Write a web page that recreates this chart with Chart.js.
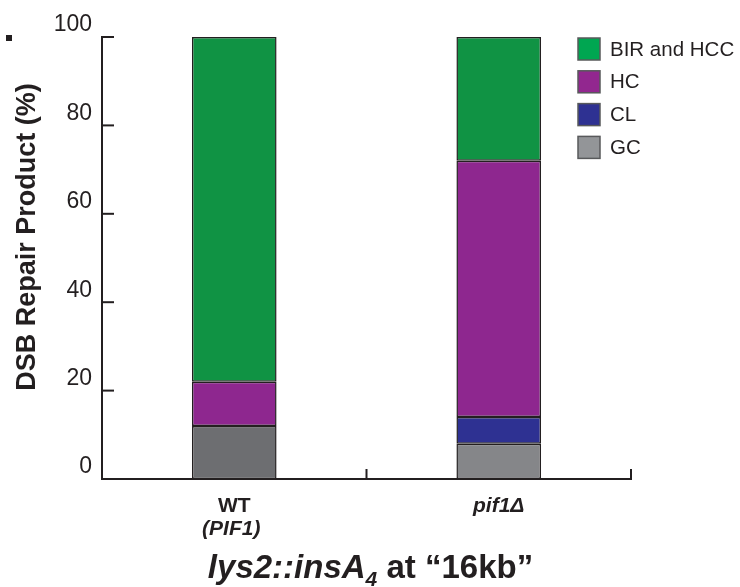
<!DOCTYPE html>
<html>
<head>
<meta charset="utf-8">
<script src="https://cdn.jsdelivr.net/npm/chart.js@4.4.1/dist/chart.umd.min.js"></script>
<style>
  html, body { margin: 0; padding: 0; background: #fff; }
  #wrap { width: 740px; height: 587px; }
</style>
</head>
<body>
<div id="wrap"><canvas id="repairChart" width="740" height="587"></canvas></div>
<script>
// data
const strains = ['WT', 'pif1Δ'];
const strainNotes = ['(PIF1)', ''];
const gcValues = [12, 8];
const clValues = [0, 6];
const hcValues = [10, 58];
const birValues = [78, 28];
const yTicks = [0, 20, 40, 60, 80, 100];
const yTitle = 'DSB Repair Product (%)';
const legendLabels = ['BIR and HCC', 'HC', 'CL', 'GC'];

const FONT = "'Liberation Sans', Arial, Helvetica, sans-serif";
const INK = '#231f20';

const legendColors = ['#00a651', '#92278f', '#2e3192', '#939598'];
const italicStrain = [false, true];

// ticks pointing into the plot, titles, strain labels and legend
const decorations = {
  id: 'decorations',
  afterDraw(chart) {
    const ctx = chart.ctx;
    const area = chart.chartArea;
    const xs = chart.scales.x;
    const ys = chart.scales.y;
    ctx.save();
    ctx.strokeStyle = INK;
    ctx.lineWidth = 2;

    ys.ticks.forEach(t => {
      const py = ys.getPixelForValue(t.value);
      ctx.beginPath();
      ctx.moveTo(area.left, py);
      ctx.lineTo(area.left + 12, py);
      ctx.stroke();
    });
    const half = (xs.getPixelForValue(1) - xs.getPixelForValue(0)) / 2;
    strains.forEach((s, i) => {
      const px = xs.getPixelForValue(i) + half;
      ctx.beginPath();
      ctx.moveTo(px, area.bottom);
      ctx.lineTo(px, area.bottom - 10);
      ctx.stroke();
    });

    // stray mark in the original figure
    ctx.fillStyle = INK;
    ctx.fillRect(6, 35, 6, 6);

    // strain labels
    ctx.textAlign = 'center';
    ctx.textBaseline = 'middle';
    strains.forEach((s, i) => {
      const px = xs.getPixelForValue(i);
      ctx.font = (italicStrain[i] ? 'italic ' : '') + 'bold 21px ' + FONT;
      ctx.fillText(s, px, area.bottom + 27);
      if (strainNotes[i]) {
        ctx.font = 'italic bold 21px ' + FONT;
        ctx.fillText(strainNotes[i], px - 3, area.bottom + 50);
      }
    });

    // y title
    ctx.save();
    ctx.translate(28, 237);
    ctx.rotate(-Math.PI / 2);
    ctx.font = 'bold 27px ' + FONT;
    ctx.fillText(yTitle, 0, 0);
    ctx.restore();

    // x title: lys2::insA4 at "16kb"
    const parts = [
      { t: 'lys2::insA', f: 'italic bold 33px ' + FONT, dy: 0 },
      { t: '4', f: 'italic bold 21px ' + FONT, dy: 8 },
      { t: ' at \u201c16kb\u201d', f: 'bold 33px ' + FONT, dy: 0 }
    ];
    let total = 0;
    parts.forEach(p => { ctx.font = p.f; p.w = ctx.measureText(p.t).width; total += p.w; });
    let cx = (area.left + area.right) / 2 + 4 - total / 2;
    ctx.textAlign = 'left';
    ctx.textBaseline = 'alphabetic';
    parts.forEach(p => {
      ctx.font = p.f;
      ctx.fillText(p.t, cx, 578 + p.dy);
      cx += p.w;
    });

    // legend
    ctx.font = '20.5px ' + FONT;
    ctx.textBaseline = 'middle';
    ctx.lineWidth = 1.5;
    ctx.strokeStyle = '#58595b';
    legendLabels.forEach((lab, i) => {
      const top = 38 + i * 32.8;
      ctx.fillStyle = legendColors[i];
      ctx.fillRect(578, top, 22, 22);
      ctx.strokeRect(578, top, 22, 22);
      ctx.fillStyle = INK;
      ctx.fillText(lab, 610, top + 12);
    });
    ctx.restore();
  }
};

const barStyle = { borderColor: INK, borderWidth: 1.5, borderSkipped: false,
  barPercentage: 0.4, categoryPercentage: 0.8 };

new Chart(document.getElementById('repairChart'), {
  type: 'bar',
  data: {
    labels: strains,
    datasets: [
      { label: 'GC', data: gcValues, backgroundColor: ['#6d6e71', '#858689'], ...barStyle },
      { label: 'CL', data: clValues, backgroundColor: '#2e3192', ...barStyle },
      { label: 'HC', data: hcValues, backgroundColor: '#8e278f', ...barStyle },
      { label: 'BIR and HCC', data: birValues, backgroundColor: '#109344', ...barStyle }
    ]
  },
  options: {
    responsive: false,
    animation: false,
    layout: { padding: { top: 37, right: 109, left: 0, bottom: 0 } },
    plugins: { legend: { display: false }, tooltip: { enabled: false } },
    scales: {
      x: {
        stacked: true,
        grid: { display: false },
        border: { display: true, color: INK, width: 2 },
        ticks: { display: false },
        afterFit: s => { s.height = 108; }
      },
      y: {
        stacked: true,
        min: 0,
        max: 100,
        grid: { display: false },
        border: { display: true, color: INK, width: 2 },
        afterBuildTicks: s => { s.ticks = yTicks.map(v => ({ value: v })); },
        ticks: { color: INK, font: { family: FONT, size: 23 }, padding: 2, labelOffset: -12 },
        afterFit: s => { s.width = 102; }
      }
    }
  },
  plugins: [decorations]
});
</script>
</body>
</html>
